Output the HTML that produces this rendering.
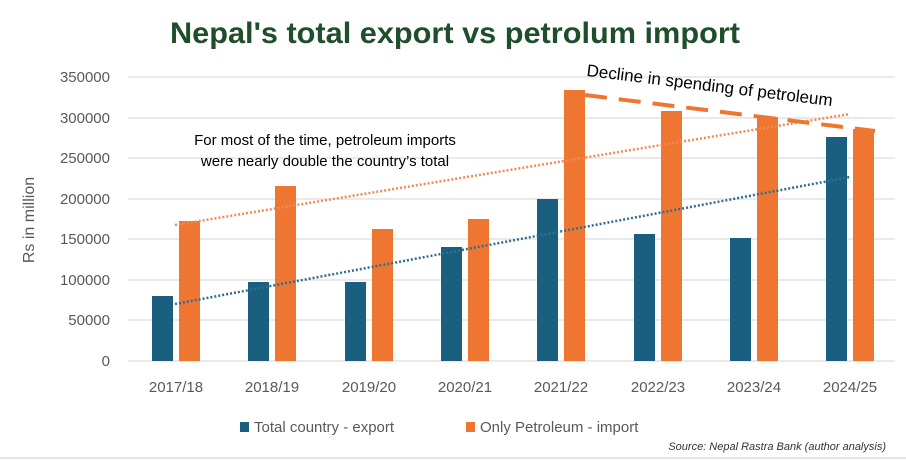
<!DOCTYPE html>
<html><head><style>body{margin:0;background:#fff}</style></head><body>
<svg width="906" height="460" xmlns="http://www.w3.org/2000/svg" font-family="Liberation Sans, sans-serif">
<rect width="906" height="460" fill="#fff"/>
<text x="455" y="43" text-anchor="middle" font-size="30" font-weight="bold" fill="#1f4e2c" textLength="570" lengthAdjust="spacingAndGlyphs">Nepal's total export vs petrolum import</text>
<g stroke="#e3e3e3" stroke-width="1.5">
<line x1="128" y1="77" x2="895" y2="77"/><line x1="128" y1="118" x2="895" y2="118"/><line x1="128" y1="158" x2="895" y2="158"/><line x1="128" y1="199" x2="895" y2="199"/><line x1="128" y1="239" x2="895" y2="239"/><line x1="128" y1="280" x2="895" y2="280"/><line x1="128" y1="320" x2="895" y2="320"/><line x1="128" y1="361" x2="895" y2="361"/>
</g>
<g font-size="15" fill="#595959" text-anchor="end">
<text x="110" y="82">350000</text><text x="110" y="123">300000</text><text x="110" y="163">250000</text><text x="110" y="204">200000</text><text x="110" y="244">150000</text><text x="110" y="285">100000</text><text x="110" y="325">50000</text><text x="110" y="366">0</text>
</g>
<text transform="translate(34,220) rotate(-90)" text-anchor="middle" font-size="16" fill="#595959">Rs in million</text>
<g fill="#1b5f80">
<rect x="152" y="296" width="21" height="65"/><rect x="248" y="282" width="21" height="79"/><rect x="345" y="282" width="21" height="79"/><rect x="441" y="247" width="21" height="114"/><rect x="537" y="199" width="21" height="162"/><rect x="634" y="234" width="21" height="127"/><rect x="730" y="238" width="21" height="123"/><rect x="826" y="137" width="21" height="224"/>
</g>
<g fill="#ee7631">
<rect x="179" y="221" width="21" height="140"/><rect x="275" y="186" width="21" height="175"/><rect x="372" y="229" width="21" height="132"/><rect x="468" y="219" width="21" height="142"/><rect x="564" y="90" width="21" height="271"/><rect x="661" y="111" width="21" height="250"/><rect x="757" y="117" width="21" height="244"/><rect x="853" y="129" width="21" height="232"/>
</g>
<line x1="175" y1="225" x2="850" y2="114" stroke="#f08a55" stroke-width="2.5" stroke-dasharray="2,2"/>
<line x1="175" y1="304" x2="850" y2="177" stroke="#2f6e8e" stroke-width="2.5" stroke-dasharray="2,2"/>
<line x1="585" y1="95" x2="875" y2="131" stroke="#ee7631" stroke-width="4" stroke-dasharray="22,12"/>
<text transform="translate(709,91) rotate(7)" text-anchor="middle" font-size="17" fill="#000">Decline in spending of petroleum</text>
<text x="325" y="145" text-anchor="middle" font-size="15" fill="#000">For most of the time, petroleum imports</text>
<text x="325" y="166" text-anchor="middle" font-size="15" fill="#000">were nearly double the country’s total</text>
<g font-size="15" fill="#595959" text-anchor="middle">
<text x="176" y="392">2017/18</text><text x="272" y="392">2018/19</text><text x="369" y="392">2019/20</text><text x="465" y="392">2020/21</text><text x="561" y="392">2021/22</text><text x="658" y="392">2022/23</text><text x="754" y="392">2023/24</text><text x="850" y="392">2024/25</text>
</g>
<rect x="240" y="422" width="9" height="10" fill="#1b5f80"/>
<text x="254" y="432" font-size="15" fill="#595959">Total country - export</text>
<rect x="466" y="422" width="9" height="10" fill="#ee7631"/>
<text x="480" y="432" font-size="15" fill="#595959">Only Petroleum - import</text>
<text x="886" y="450" text-anchor="end" font-size="11" font-style="italic" fill="#333">Source: Nepal Rastra Bank (author analysis)</text>
<line x1="0" y1="458" x2="906" y2="458" stroke="#e6e6e6" stroke-width="2"/>
</svg>
</body></html>
